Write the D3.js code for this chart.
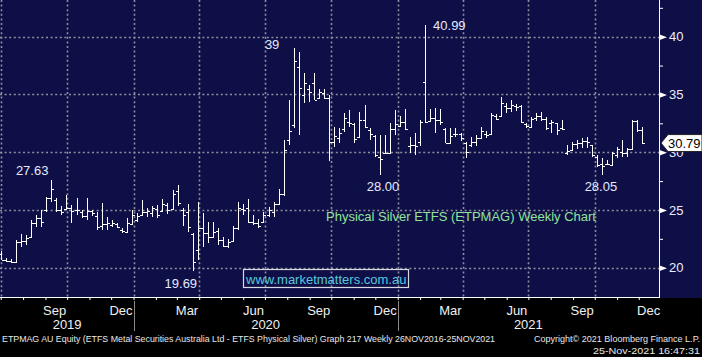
<!DOCTYPE html>
<html><head><meta charset="utf-8">
<script src="https://cdn.jsdelivr.net/npm/d3@7"></script>
<style>
html,body{margin:0;padding:0;background:#000;}
svg{display:block;}
text{font-family:"Liberation Sans",Arial,sans-serif;}
</style></head>
<body>
<svg id="c" width="702" height="357"></svg>
<script>
// ---- data (weekly OHLC, first week starting 2019-07-01) ----
const firstWeek = "2019-07-01";
const open  = [21.2,20.7,20.6,20.5,22.2,22.3,22.7,23.9,24.3,25.0,26.0,25.9,25.0,25.1,25.2,25.0,24.8,24.5,24.9,24.5,23.6,23.8,23.7,23.8,23.3,23.1,23.8,24.1,24.6,24.8,24.7,25.1,24.9,25.4,25.1,26.6,25.0,24.8,22.9,21.5,23.4,23.0,22.7,23.2,22.4,21.9,22.3,23.4,25.1,25.2,24.0,23.9,24.0,24.6,24.8,25.5,26.4,31.06,32.36,37.35,34.95,35.5,35.96,34.7,35.1,34.7,30.9,31.2,32.0,32.6,32.4,31.3,32.8,31.9,31.4,29.6,29.9,29.9,32.0,32.3,32.6,30.5,30.6,30.9,36.05,32.7,33.0,32.8,32.0,30.8,31.6,31.6,30.8,30.6,30.9,31.2,31.6,31.6,33.1,33.1,34.0,33.8,34.0,34.0,32.4,32.2,33.0,33.1,32.9,32.5,32.5,32.1,29.9,30.2,30.7,30.8,31.0,30.6,29.6,29.0,29.0,28.9,29.8,30.0,29.9,30.3,32.7,31.9];
const high  = [21.45,20.8,20.75,22.4,22.9,22.85,24.13,24.56,25.0,26.15,27.63,26.0,25.3,26.3,25.43,26.0,25.0,26.0,25.0,24.85,25.57,24.4,24.1,23.85,23.4,24.28,25.0,24.7,25.9,25.16,25.35,25.43,25.92,25.63,26.73,27.16,25.14,25.5,22.98,25.7,24.7,23.98,23.98,23.4,22.7,22.5,23.6,25.7,25.5,25.95,24.56,24.2,24.85,25.28,25.66,26.8,31.06,34.5,39.0,38.7,36.83,35.8,36.83,35.5,35.5,34.95,32.2,32.1,33.37,33.65,32.5,33.5,34.08,32.07,31.49,31.49,31.5,32.5,33.65,33.15,33.7,31.34,31.64,32.8,40.99,33.7,33.8,33.74,32.07,32.07,32.07,31.7,30.9,31.34,31.49,32.2,31.8,33.37,33.3,34.8,34.22,34.52,34.2,34.08,32.5,33.07,33.37,33.5,33.07,32.8,32.5,32.79,30.62,30.9,31.06,31.2,31.34,30.62,29.76,29.47,29.3,30.05,30.48,31.06,30.34,32.79,32.79,32.2];
const low   = [20.67,20.5,20.4,20.47,21.8,21.95,22.68,23.55,23.55,24.85,25.7,24.85,24.56,25.0,23.84,24.56,24.28,24.13,24.5,23.26,23.26,23.3,23.55,23.4,22.98,22.98,23.7,24.0,24.56,24.36,24.4,24.3,24.85,24.62,25.0,25.34,23.6,23.1,19.69,20.67,21.77,22.1,22.68,21.97,21.75,21.7,22.3,23.3,24.6,23.87,23.7,23.43,23.9,24.42,24.42,25.43,26.2,30.6,32.07,31.5,34.23,34.37,34.52,34.67,34.58,29.2,30.48,30.77,31.77,32.2,30.77,31.3,32.07,31.06,29.6,28.0,29.9,29.9,31.49,32.3,31.9,29.9,29.76,30.5,32.5,32.64,31.7,32.36,30.77,30.77,31.3,31.0,29.52,30.48,30.56,31.2,31.2,31.49,32.8,33.07,33.37,33.5,33.6,32.5,32.07,32.07,32.7,32.7,31.9,31.64,31.5,31.9,29.76,30.19,30.28,30.34,30.34,29.6,28.74,28.05,28.9,28.9,29.47,29.6,29.6,30.19,31.77,30.68];
const close = [20.7,20.6,20.5,22.2,22.3,22.6,23.9,24.3,24.0,26.0,26.8,25.0,24.8,25.2,24.9,25.0,24.5,24.9,24.7,23.5,23.8,23.9,23.85,23.5,23.2,23.9,24.6,24.5,24.8,24.9,25.2,24.6,25.5,25.0,26.4,25.6,24.6,23.5,20.5,23.4,23.0,22.7,23.1,22.4,21.9,22.2,23.4,25.2,25.0,24.0,23.9,23.6,24.6,25.0,25.5,26.4,30.2,31.8,37.9,35.6,35.96,35.24,34.52,35.2,34.7,30.9,31.4,31.7,33.0,32.5,31.1,32.8,32.2,31.6,29.8,29.4,29.9,32.0,32.4,32.6,32.0,30.6,30.5,32.6,32.64,33.0,32.8,32.6,30.77,31.4,31.6,31.2,30.0,30.9,31.2,31.8,31.5,33.2,32.9,34.3,33.8,34.1,33.9,32.6,32.3,32.9,33.1,32.9,32.1,32.6,31.9,32.0,30.1,30.7,30.8,31.0,30.9,29.8,28.9,28.8,29.0,29.9,30.3,29.9,30.3,32.7,31.9,30.79];

const yMajor = [20,25,30,35,40];
const yMinor = [22.5,27.5,32.5,37.5,42.5];
const monthLabels = [["2019-09","Sep"],["2019-12","Dec"],["2020-03","Mar"],["2020-06","Jun"],["2020-09","Sep"],["2020-12","Dec"],["2021-03","Mar"],["2021-06","Jun"],["2021-09","Sep"],["2021-12","Dec"]];
const yearLabels = [["2019","2019-07-01","2020-01-01"],["2020","2020-01-01","2021-01-01"],["2021","2021-01-01","2022-01-01"]];
const yearBreaks = ["2020-01-01","2021-01-01"];
const annotations = [["27.63","2019-07-22",28.0],["19.69","2020-02-13",18.2],["39","2020-07-01",38.93],["40.99","2021-02-19",40.58],["28.00","2020-11-19",26.64],["28.05","2021-09-17",26.64]];
const lastPrice = 30.79;
const chartTitle = "Physical Silver ETFS (ETPMAG) Weekly Chart";
const website = "www.marketmatters.com.au";
const footer1 = "ETPMAG AU Equity (ETFS Metal Securities Australia Ltd - ETFS Physical Silver) Graph 217  Weekly 26NOV2016-25NOV2021";
const footer2 = "Copyright\u00A9 2021 Bloomberg Finance L.P.";
const footer3 = "25-Nov-2021 16:47:31";

// ---- layout ----
const W = 702, H = 357, PR = 659, PB = 297;
const svg = d3.select("#c");
const P = d3.utcParse("%Y-%m-%d");
const PM = d3.utcParse("%Y-%m");
const x = d3.scaleUtc().domain([P("2019-06-30"), P("2021-12-29")]).range([0, PR]);
const y = d3.scaleLinear().domain([20, 40]).range([267.7, 36.7]);

svg.append("rect").attr("width",W).attr("height",H).attr("fill","#000");
svg.append("rect").attr("width",W).attr("height",PB+1).attr("fill","#0f0f47");

const dot = {stroke:"#8e8e9c", w:1.6, dash:"2,2.6"};
svg.append("g").selectAll("line").data(yMajor).join("line")
  .attr("x1",0).attr("x2",PR).attr("y1",d=>Math.round(y(d))+0.5).attr("y2",d=>Math.round(y(d))+0.5)
  .attr("stroke",dot.stroke).attr("stroke-width",dot.w).attr("stroke-dasharray",dot.dash);
const quarters = d3.utcMonth.every(3).range(P("2019-07-01"), P("2021-12-01"));
svg.append("g").selectAll("line").data(quarters).join("line")
  .attr("x1",d=>Math.round(x(d))+0.5).attr("x2",d=>Math.round(x(d))+0.5).attr("y1",0).attr("y2",PB)
  .attr("stroke",dot.stroke).attr("stroke-width",dot.w).attr("stroke-dasharray",dot.dash);

// OHLC bars
const start = P(firstWeek);
const bars = close.map((c,i)=>({d:d3.utcDay.offset(start,7*i),o:open[i],h:high[i],l:low[i],c}));
const gb = svg.append("g").attr("stroke","#fff").attr("stroke-width",1).attr("shape-rendering","crispEdges");
bars.forEach(b=>{
  const cx = Math.round(x(b.d))+0.5;
  gb.append("line").attr("x1",cx).attr("x2",cx).attr("y1",y(b.h)).attr("y2",y(b.l));
  gb.append("line").attr("x1",cx-2.5).attr("x2",cx).attr("y1",Math.round(y(b.o))+0.5).attr("y2",Math.round(y(b.o))+0.5);
  gb.append("line").attr("x1",cx).attr("x2",cx+2.5).attr("y1",Math.round(y(b.c))+0.5).attr("y2",Math.round(y(b.c))+0.5);
});

// annotations
svg.append("g").selectAll("text").data(annotations).join("text")
  .attr("x",d=>x(P(d[1]))).attr("y",d=>y(d[2])).attr("font-size",13).attr("fill","#e4eaff").text(d=>d[0]);
svg.append("text").attr("x",326).attr("y",221).attr("font-size",13).attr("fill","#92e39a").text(chartTitle);
svg.append("rect").attr("x",243.5).attr("y",269.5).attr("width",165).attr("height",18).attr("fill","none").attr("stroke","#d8d8e0").attr("stroke-width",1.2);
svg.append("text").attr("x",246).attr("y",284).attr("font-size",13).attr("fill","#57c8dc").text(website);

// right axis
svg.append("line").attr("x1",PR+0.5).attr("x2",PR+0.5).attr("y1",0).attr("y2",PB+1).attr("stroke","#fff");
const ra = svg.append("g").attr("transform",`translate(${PR},0)`)
  .call(d3.axisRight(y).tickValues(yMajor).tickSize(0).tickPadding(10).tickFormat(d3.format("d")));
ra.select(".domain").remove();
ra.selectAll("text").attr("font-size",13).attr("fill","#e8eeff").attr("font-family","Liberation Sans, Arial");
ra.selectAll(".tick").append("path").attr("d","M0,-3L8,0L0,3Z").attr("fill","#fff");
const rm = svg.append("g").attr("transform",`translate(${PR},0)`)
  .call(d3.axisRight(y).tickValues(yMinor).tickSize(4).tickFormat(""));
rm.select(".domain").remove();
rm.selectAll("line").attr("stroke","#fff");

// last price box
const ly = y(lastPrice);
svg.append("path").attr("d",`M661,${ly}L668,${ly-8.5}L702,${ly-8.5}L702,${ly+8.5}L668,${ly+8.5}Z`)
  .attr("fill","#fff").attr("stroke","#222");
svg.append("text").attr("x",668).attr("y",ly+5).attr("font-size",13).attr("fill","#000").text(lastPrice.toFixed(2));

// bottom axis
const ba = svg.append("g").attr("transform",`translate(0,${PB})`)
  .call(d3.axisBottom(x).ticks(d3.utcMonth.every(1)).tickSize(3).tickFormat(""));
ba.select(".domain").attr("d",`M0,0.5H${PR}`).attr("stroke","#fff");
ba.selectAll("line").attr("stroke","#fff");

const fnt = "Liberation Sans Narrow, Arial Narrow, Liberation Sans, Arial";
svg.append("g").selectAll("text").data(monthLabels).join("text")
  .attr("x",d=>x(d3.utcMonth.offset(PM(d[0]),1))-1).attr("y",315).attr("text-anchor","end")
  .attr("font-size",13).attr("font-family",fnt).attr("fill","#f0f0f0").text(d=>d[1]);
svg.append("g").selectAll("text").data(yearLabels).join("text")
  .attr("x",d=>(Math.max(0,x(P(d[1])))+Math.min(PR,x(P(d[2]))))/2).attr("y",329).attr("text-anchor","middle")
  .attr("font-size",13).attr("font-family",fnt).attr("fill","#f0f0f0").text(d=>d[0]);
svg.append("g").selectAll("line").data(yearBreaks).join("line")
  .attr("x1",d=>Math.round(x(P(d)))+0.5).attr("x2",d=>Math.round(x(P(d)))+0.5).attr("y1",301).attr("y2",331)
  .attr("stroke","#8a8a8a");

svg.append("text").attr("x",2).attr("y",342).attr("font-size",9).attr("font-family",fnt).attr("fill","#e8e8e8")
  .attr("textLength",493).attr("lengthAdjust","spacingAndGlyphs").text(footer1);
svg.append("text").attr("x",700).attr("y",342).attr("text-anchor","end").attr("font-size",8.5).attr("font-family",fnt).attr("fill","#e8e8e8")
  .attr("textLength",166).attr("lengthAdjust","spacingAndGlyphs").text(footer2);
svg.append("text").attr("x",700).attr("y",354).attr("text-anchor","end").attr("font-size",9).attr("font-family",fnt).attr("fill","#e8e8e8")
  .attr("textLength",107).attr("lengthAdjust","spacingAndGlyphs").text(footer3);
</script>
</body></html>
